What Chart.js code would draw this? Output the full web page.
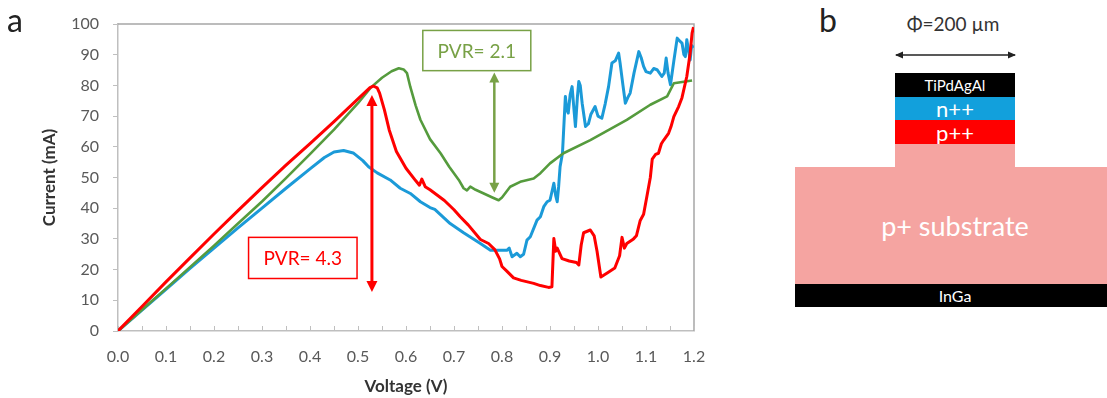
<!DOCTYPE html>
<html>
<head>
<meta charset="utf-8">
<script src="https://cdn.jsdelivr.net/npm/chart.js@4.4.1/dist/chart.umd.min.js"></script>
<style>
    body { margin: 0; background: #fff; font-family: Lato, sans-serif; }
    #page { position: relative; width: 1107px; height: 398px; overflow: hidden; }
    #chart-box { position: absolute; left: 0; top: 0; width: 780px; height: 398px; }
    .panel-label { position: absolute; font-size: 32px; line-height: 1; color: #222; }
    .layer { position: absolute; display: flex; align-items: center; justify-content: center; color: #fff; }
</style>
</head>
<body>
<div id="page">
    <div id="chart-box"><canvas id="iv-chart"></canvas></div>
    <div class="panel-label" style="left:7px; top:4px;">a</div>
    <div class="panel-label" style="left:819px; top:4px;">b</div>

    <div style="position:absolute; left:883px; top:13px; width:140px; text-align:center; font-size:19px; line-height:22px; color:#333;">&Phi;=200 &micro;m</div>
    <svg style="position:absolute; left:893px; top:49px;" width="126" height="12">
        <line x1="3" y1="6" x2="122" y2="6" stroke="#222" stroke-width="1.3"/>
        <path d="M2 6 L10 2.5 L10 9.5 Z" fill="#222"/>
        <path d="M123 6 L115 2.5 L115 9.5 Z" fill="#222"/>
    </svg>
    <div class="layer" style="left:895px; top:73px; width:120px; height:24px; background:#000; font-size:15px;">TiPdAgAl</div>
    <div class="layer" style="left:895px; top:97px; width:120px; height:23px; background:#12a0dc; font-size:22px;">n++</div>
    <div class="layer" style="left:895px; top:120px; width:120px; height:24px; background:#ff0000; font-size:22px;">p++</div>
    <div class="layer" style="left:895px; top:144px; width:120px; height:24px; background:#f5a4a1;"></div>
    <div class="layer" style="left:795px; top:167px; width:312px; height:117px; background:#f5a4a1; font-size:27px; padding-left:8px; box-sizing:border-box;">p+ substrate</div>
    <div class="layer" style="left:795px; top:284px; width:312px; height:23px; background:#000; font-size:16px; padding-left:8px; box-sizing:border-box;">InGa</div>
</div>

<script>
// values: voltage (V) and current (mA) per device
const redVoltage = [0, 0.05, 0.10, 0.15, 0.20, 0.25, 0.30, 0.35, 0.40, 0.45, 0.50, 0.515, 0.525, 0.532, 0.54, 0.545, 0.555, 0.565, 0.58, 0.60, 0.62, 0.628,
    0.633, 0.64, 0.65, 0.68, 0.70, 0.713, 0.73, 0.755, 0.772, 0.785, 0.795, 0.80, 0.81, 0.824, 0.84, 0.866, 0.88, 0.897, 0.904, 0.908,
    0.912, 0.915, 0.925, 0.94, 0.955, 0.96, 0.965, 0.97, 0.984, 0.992, 0.998, 1.006, 1.02, 1.035, 1.045, 1.05, 1.055, 1.06, 1.074, 1.08,
    1.088, 1.095, 1.102, 1.109, 1.113, 1.12, 1.126, 1.132, 1.137, 1.147, 1.152, 1.158, 1.168, 1.175, 1.185, 1.192, 1.196, 1.199];
const redCurrent = [0, 8.0, 16.0, 23.8, 31.6, 39.2, 46.7, 54.0, 61.0, 68.2, 75.6, 77.8, 79.3, 79.8, 79.2, 77.5, 72.0, 65.5, 58.5, 53.0, 49.0, 47.5,
    49.5, 47.0, 46.0, 42.5, 39.5, 37.2, 34.5, 29.8, 28.5, 26.5, 23.5, 21.0, 19.5, 17.3, 16.5, 15.5, 14.8, 14.2, 14.4, 30.1,
    26.0, 27.0, 23.6, 22.8, 22.3, 21.5, 28.0, 32.0, 32.9, 31.0, 26.0, 17.6, 19.0, 20.5, 24.5, 30.5, 27.0, 28.5, 30.0, 31.0,
    36.0, 38.0, 44.0, 50.0, 56.0, 57.5, 57.9, 61.0, 62.2, 64.4, 66.5, 69.8, 73.1, 76.0, 82.9, 90.5, 97.0, 99.0];

const greenVoltage = [0, 0.05, 0.10, 0.15, 0.20, 0.25, 0.30, 0.35, 0.40, 0.45, 0.50, 0.526, 0.55, 0.57, 0.585, 0.595, 0.602, 0.609, 0.62, 0.63,
    0.65, 0.672, 0.69, 0.71, 0.72, 0.727, 0.734, 0.745, 0.762, 0.78, 0.793, 0.80, 0.817, 0.838, 0.866, 0.88, 0.90, 0.928, 0.984, 1.06,
    1.109, 1.144, 1.158, 1.196];
const greenCurrent = [0, 6.9, 13.8, 20.8, 27.8, 35.0, 42.2, 49.8, 57.6, 65.6, 74.2, 79.2, 82.5, 84.6, 85.6, 85.2, 84.0, 79.5, 73.5, 68.8,
    62.5, 57.9, 53.5, 49.2, 46.5, 45.8, 47.0, 46.0, 44.8, 43.5, 42.6, 43.5, 47.0, 48.6, 49.7, 51.4, 54.6, 57.9, 62.2, 68.8,
    73.7, 76.4, 80.7, 81.6];

const blueVoltage = [0, 0.05, 0.10, 0.15, 0.20, 0.25, 0.30, 0.35, 0.40, 0.43, 0.45, 0.47, 0.49, 0.51, 0.522, 0.54, 0.567, 0.588, 0.609, 0.63,
    0.65, 0.66, 0.692, 0.72, 0.755, 0.776, 0.797, 0.81, 0.815, 0.821, 0.831, 0.838, 0.845, 0.852, 0.859, 0.873, 0.88, 0.887, 0.894, 0.90,
    0.905, 0.908, 0.912, 0.915, 0.918, 0.921, 0.926, 0.932, 0.935, 0.938, 0.942, 0.946, 0.95, 0.953, 0.957, 0.96, 0.963, 0.967, 0.974, 0.98,
    0.985, 0.994, 1.0, 1.008, 1.015, 1.022, 1.029, 1.036, 1.043, 1.046, 1.052, 1.057, 1.062, 1.067, 1.075, 1.085, 1.09, 1.095, 1.1, 1.109,
    1.116, 1.123, 1.133, 1.138, 1.142, 1.146, 1.151, 1.158, 1.165, 1.17, 1.175, 1.179, 1.182, 1.185, 1.188, 1.192, 1.195, 1.199];
const blueCurrent = [0, 6.8, 13.6, 20.4, 27.0, 33.6, 40.0, 46.5, 52.8, 56.5, 58.3, 58.8, 58.0, 55.5, 53.5, 51.5, 49.2, 46.5, 44.8, 42.1,
    40.2, 39.6, 35.0, 32.0, 28.5, 26.3, 26.3, 26.3, 27.0, 24.2, 25.3, 24.2, 25.0, 29.6, 30.7, 36.1, 37.2, 40.5, 42.1, 42.6,
    46.0, 48.1, 44.0, 42.1, 47.0, 53.5, 57.9, 76.4, 72.0, 71.0, 77.0, 79.6, 72.0, 66.6, 76.0, 81.3, 80.0, 74.2, 66.6, 67.5,
    70.5, 73.1, 70.0, 69.3, 74.0, 79.6, 87.3, 88.0, 90.5, 87.3, 80.0, 74.2, 76.0, 77.5, 84.0, 91.0, 89.0, 86.2, 84.5, 84.0,
    85.5, 85.1, 82.9, 84.0, 88.9, 84.0, 80.2, 88.0, 95.4, 94.5, 93.8, 90.0, 89.4, 94.9, 92.0, 88.3, 93.0, 92.2];

// PVR annotations, in data units
const redArrow = { v: 0.529, top: 76.9, bottom: 12.7 };
const redBox = { v1: 0.272, v2: 0.498, top: 30.5, bottom: 17.1, text: 'PVR= 4.3' };
const greenArrow = { v: 0.784, top: 84.2, bottom: 45.0 };
const greenBox = { v1: 0.635, v2: 0.860, top: 97.9, bottom: 84.8, text: 'PVR= 2.1' };

const RED = '#ff0000';
const GREEN = '#559b3d';
const BLUE = '#1b9ad8';
const OLIVE = '#78a146';

const toPoints = (xs, ys) => xs.map((v, i) => ({ x: v, y: ys[i] }));

function drawDoubleArrow(ctx, px, yTop, yBottom, color, width, headW, headL) {
    ctx.save();
    ctx.strokeStyle = color;
    ctx.fillStyle = color;
    ctx.lineWidth = width;
    ctx.beginPath();
    ctx.moveTo(px, yTop + headL - 1);
    ctx.lineTo(px, yBottom - headL + 1);
    ctx.stroke();
    ctx.beginPath();
    ctx.moveTo(px, yTop);
    ctx.lineTo(px - headW / 2, yTop + headL);
    ctx.lineTo(px + headW / 2, yTop + headL);
    ctx.closePath();
    ctx.fill();
    ctx.beginPath();
    ctx.moveTo(px, yBottom);
    ctx.lineTo(px - headW / 2, yBottom - headL);
    ctx.lineTo(px + headW / 2, yBottom - headL);
    ctx.closePath();
    ctx.fill();
    ctx.restore();
}

function drawBox(ctx, x, y, box, color) {
    const l = x.getPixelForValue(box.v1), r = x.getPixelForValue(box.v2);
    const t = y.getPixelForValue(box.top), b = y.getPixelForValue(box.bottom);
    ctx.save();
    ctx.fillStyle = '#fff';
    ctx.fillRect(l, t, r - l, b - t);
    ctx.strokeStyle = color;
    ctx.lineWidth = 1.5;
    ctx.strokeRect(l, t, r - l, b - t);
    ctx.fillStyle = color;
    ctx.font = '19px Lato';
    ctx.textAlign = 'center';
    ctx.textBaseline = 'middle';
    ctx.fillText(box.text, (l + r) / 2, (t + b) / 2 + 1);
    ctx.restore();
}

// top/right frame and the small inward ticks on the voltage axis
const frame = {
    id: 'frame',
    beforeDatasetsDraw(chart) {
        const { ctx, chartArea: a, scales: { x } } = chart;
        ctx.save();
        ctx.strokeStyle = '#a6a6a6';
        ctx.lineWidth = 1.5;
        ctx.beginPath();
        ctx.moveTo(a.left, a.top);
        ctx.lineTo(a.right, a.top);
        ctx.lineTo(a.right, a.bottom);
        ctx.stroke();
        ctx.strokeStyle = '#bfbfbf';
        ctx.lineWidth = 1;
        x.ticks.forEach(t => {
            const px = Math.round(x.getPixelForValue(t.value)) + 0.5;
            ctx.beginPath();
            ctx.moveTo(px, a.bottom);
            ctx.lineTo(px, a.bottom - 5);
            ctx.stroke();
        });
        ctx.restore();
    }
};

const pvr = {
    id: 'pvr',
    afterDatasetsDraw(chart) {
        const { ctx, scales: { x, y } } = chart;
        drawDoubleArrow(ctx, x.getPixelForValue(redArrow.v), y.getPixelForValue(redArrow.top),
            y.getPixelForValue(redArrow.bottom), RED, 3, 11, 11);
        drawDoubleArrow(ctx, x.getPixelForValue(greenArrow.v), y.getPixelForValue(greenArrow.top),
            y.getPixelForValue(greenArrow.bottom), OLIVE, 2.5, 10, 10);
        drawBox(ctx, x, y, redBox, RED);
        drawBox(ctx, x, y, greenBox, OLIVE);
    }
};

const lineStyle = { borderWidth: 3, pointRadius: 0, tension: 0, fill: false, borderJoinStyle: 'round' };

new Chart(document.getElementById('iv-chart'), {
    type: 'scatter',
    data: {
        datasets: [
            { data: toPoints(redVoltage, redCurrent), borderColor: RED, showLine: true, ...lineStyle },
            { data: toPoints(greenVoltage, greenCurrent), borderColor: GREEN, showLine: true, ...lineStyle, borderWidth: 2.6 },
            { data: toPoints(blueVoltage, blueCurrent), borderColor: BLUE, showLine: true, ...lineStyle }
        ]
    },
    options: {
        responsive: true,
        maintainAspectRatio: false,
        animation: false,
        layout: { padding: { top: 24, right: 86, left: 0, bottom: 0 } },
        plugins: { legend: { display: false }, tooltip: { enabled: false } },
        scales: {
            x: {
                type: 'linear',
                min: 0,
                max: 1.2,
                afterFit: s => { s.height = 67; },
                grid: { display: false, drawTicks: false },
                border: { color: '#bfbfbf', width: 1.5 },
                ticks: {
                    stepSize: 0.05,
                    maxTicksLimit: 30,
                    padding: 16,
                    maxRotation: 0,
                    autoSkip: false,
                    color: '#595959',
                    font: { family: 'Lato', size: 16 },
                    callback: v => (Math.round(v * 20) % 2 === 0 ? v.toFixed(1) : '')
                },
                title: {
                    display: true,
                    text: 'Voltage (V)',
                    color: '#333',
                    font: { family: 'Lato', size: 17, weight: 'bold' },
                    padding: { top: 0, bottom: 1 }
                }
            },
            y: {
                min: 0,
                max: 100,
                afterFit: s => { s.width = 118; },
                grid: { drawOnChartArea: false, tickLength: 5, color: '#bfbfbf' },
                border: { color: '#bfbfbf', width: 1.5 },
                ticks: {
                    stepSize: 10,
                    padding: 14,
                    color: '#595959',
                    font: { family: 'Lato', size: 16 }
                },
                title: {
                    display: true,
                    text: 'Current (mA)',
                    color: '#333',
                    font: { family: 'Lato', size: 17, weight: 'bold' },
                    padding: { top: 39, bottom: 0 }
                }
            }
        }
    },
    plugins: [frame, pvr]
});
</script>
</body>
</html>
